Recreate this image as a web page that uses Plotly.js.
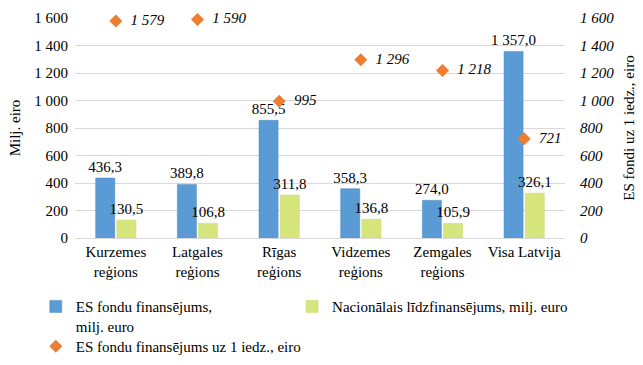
<!DOCTYPE html>
<html>
<head>
<meta charset="utf-8">
<script src="https://cdn.plot.ly/plotly-3.0.1.min.js"></script>
<style>html,body{margin:0;padding:0;background:#fff;}#chart{width:643px;height:365px;}</style>
</head>
<body>
<div id="chart"></div>
<script>
const categories = ["Kurzemes<br>reģions", "Latgales<br>reģions", "Rīgas<br>reģions", "Vidzemes<br>reģions", "Zemgales<br>reģions", "Visa Latvija"];
const esFunding = [436.3, 389.8, 855.5, 358.3, 274.0, 1357.0];
const nationalCofunding = [130.5, 106.8, 311.8, 136.8, 105.9, 326.1];
const esPerCapita = [1579, 1590, 995, 1296, 1218, 721];
const leftTicks = [0, 200, 400, 600, 800, 1000, 1200, 1400, 1600];

const serif = "'Liberation Serif', 'Times New Roman', serif";
const fs = 15;

const traces = [
  {
    type: "bar", x: categories, y: esFunding,
    name: "ES fondu finansējums,<br>milj. euro",
    marker: {color: "#5b9bd5", line: {color: "#4a8ac4", width: 0.5}},
    texttemplate: "%{y:,.1f}", textposition: "outside", cliponaxis: false,
    constraintext: "none",
    textfont: {family: serif, size: fs, color: "#000"},
    legend: "legend"
  },
  {
    type: "bar", x: categories, y: nationalCofunding,
    name: "Nacionālais līdzfinansējums, milj. euro",
    marker: {color: "#d6e57c", line: {color: "#c8d86c", width: 0.5}},
    texttemplate: "%{y:,.1f}", textposition: "outside", cliponaxis: false,
    constraintext: "none",
    textfont: {family: serif, size: fs, color: "#000"},
    legend: "legend2"
  },
  {
    type: "scatter", mode: "markers+text", x: categories, y: esPerCapita, yaxis: "y2",
    name: "ES fondu finansējums uz 1 iedz., eiro",
    marker: {symbol: "diamond", color: "#ed7d31", size: 10},
    texttemplate: "\u00a0\u00a0%{y:,}", textposition: "middle right", cliponaxis: false,
    textfont: {family: serif, size: fs, color: "#000", style: "italic"},
    legend: "legend3"
  }
];

function leg(x, y) {
  return {
    x: x, xanchor: "left", yref: "container", y: y, yanchor: "top",
    valign: "top",
    font: {family: serif, size: fs, color: "#000"},
    itemwidth: 30, bgcolor: "rgba(0,0,0,0)"
  };
}

const layout = {
  width: 643, height: 365,
  margin: {l: 75, r: 78, t: 18, b: 127, autoexpand: false},
  paper_bgcolor: "#fff", plot_bgcolor: "#fff",
  separators: ", ",
  font: {family: serif, size: fs, color: "#000"},
  barmode: "group", bargap: 0.48, bargroupgap: 0.1,
  showlegend: true,
  xaxis: {
    showgrid: false, zeroline: false, showline: false, ticks: "",
    ticklabelstandoff: 3,
    tickfont: {family: serif, size: fs, color: "#000"}
  },
  yaxis: {
    range: [0, 1600], tickvals: leftTicks, tickformat: ",d",
    showgrid: true, gridcolor: "#d9d9d9", gridwidth: 1,
    zeroline: true, zerolinecolor: "#d9d9d9", showline: false, ticks: "",
    ticklabelstandoff: 6,
    tickfont: {family: serif, size: fs, color: "#000"},
    title: {text: "Milj. eiro", font: {family: serif, size: fs, color: "#000"}, standoff: 10}
  },
  yaxis2: {
    overlaying: "y", side: "right",
    range: [0, 1600], tickvals: leftTicks, tickformat: ",d",
    showgrid: false, zeroline: false, showline: false, ticks: "",
    ticklabelstandoff: 14,
    tickfont: {family: serif, size: fs, color: "#000", style: "italic"},
    title: {text: "ES fondi uz 1 iedz., eiro", font: {family: serif, size: fs, color: "#000"}, standoff: 10}
  },
  legend: leg(-0.08, 0.205),
  legend2: leg(0.443, 0.205),
  legend3: leg(-0.08, 0.096)
};

Plotly.newPlot("chart", traces, layout, {displayModeBar: false, staticPlot: true});
</script>
</body>
</html>
